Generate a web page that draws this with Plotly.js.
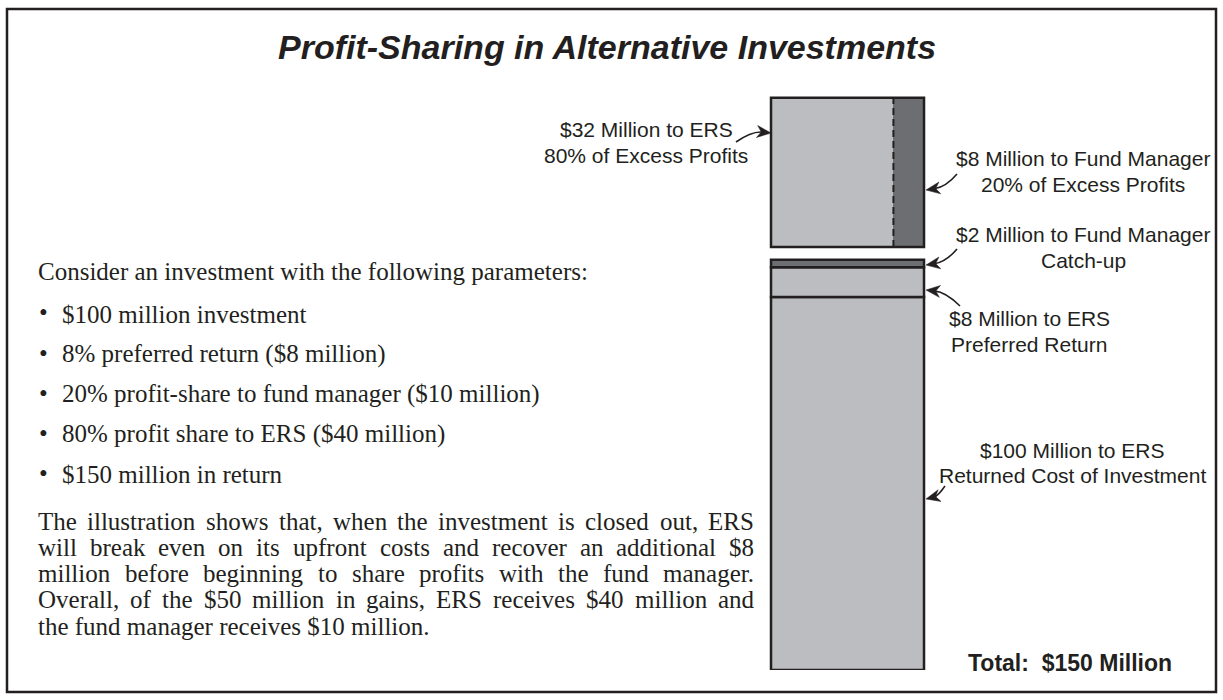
<!DOCTYPE html>
<html>
<head>
<meta charset="utf-8">
<script src="https://cdn.plot.ly/plotly-3.0.1.min.js"></script>
<style>html,body{margin:0;padding:0;background:#fff;}#chart{width:1223px;height:700px;}</style>
</head>
<body>
<div id="chart"></div>
<script>
// ---------- data ----------
const lowerSegments = ["Returned Cost of Investment", "Preferred Return", "Catch-up"];
const lowerRecipients = ["ERS", "ERS", "Fund Manager"];
const lowerValues = [100, 8, 2];
const excessRecipients = ["ERS", "Fund Manager"];
const excessValues = [32, 8];
const excessShares = [80, 20];
const totalReturn = 150;
const titleText = "Profit-Sharing in Alternative Investments";
const introText = "Consider an investment with the following parameters:";
const bulletItems = [
  "$100 million investment",
  "8% preferred return ($8 million)",
  "20% profit-share to fund manager ($10 million)",
  "80% profit share to ERS ($40 million)",
  "$150 million in return"
];
const paragraphLines = [
  "The illustration shows that, when the investment is closed out, ERS",
  "will break even on its upfront costs and recover an additional $8",
  "million before beginning to share profits with the fund manager.",
  "Overall, of the $50 million in gains, ERS receives $40 million and",
  "the fund manager receives $10 million."
];

// ---------- style ----------
const W = 1223, H = 700;
const INK = "#231f20", LIGHT = "#bcbdc1", DARK = "#6d6e71";
const SANS = "Arial, 'Liberation Sans', sans-serif";
const SERIF_NAME = "Liberation Serif";
const SERIF = "'Liberation Serif', 'DejaVu Serif', serif";
const SERIF_SIZE = 25;
const LABEL_SIZE = 21;
const LW = 2.5;
const GAP = 3.4;           // visual gap between stacked block and excess-profit block
const px = X => X / W, py = Y => 1 - Y / H;

// ---------- traces ----------
const traces = [];
let base = 0;
const lowerColors = [LIGHT, LIGHT, DARK];
lowerValues.forEach((v, i) => {
  traces.push({type: "bar", x: [0], y: [v], base: [base], width: [1],
    marker: {color: lowerColors[i], line: {color: INK, width: LW}},
    hoverinfo: "skip", showlegend: false});
  base += v;
});
const excessBase = base + GAP;
const excessTotal = excessValues.reduce((a, b) => a + b, 0);
let left = -0.5;
const excessColors = [LIGHT, DARK];
excessValues.forEach((v, i) => {
  const w = v / excessTotal;
  traces.push({type: "bar", x: [left + w / 2], y: [excessTotal], base: [excessBase], width: [w],
    marker: {color: excessColors[i], line: {width: 0}}, hoverinfo: "skip", showlegend: false});
  left += w;
});
const splitX = -0.5 + excessValues[0] / excessTotal;

// ---------- shapes ----------
const shapes = [
  {type: "rect", xref: "paper", yref: "paper", x0: px(7), x1: px(1216), y0: py(9), y1: py(692),
   line: {color: INK, width: LW}, layer: "below"},
  {type: "rect", xref: "x", yref: "y", x0: -0.5, x1: 0.5, y0: excessBase, y1: excessBase + excessTotal,
   line: {color: INK, width: LW}},
  {type: "line", xref: "x", yref: "y", x0: splitX, x1: splitX, y0: excessBase, y1: excessBase + excessTotal,
   line: {color: INK, width: 2, dash: "7px,4px"}}
];
function arrow(S, C, T) {
  const L = 14, hw = 6;
  let dx = T[0] - C[0], dy = T[1] - C[1];
  const n = Math.hypot(dx, dy); dx /= n; dy /= n;
  const nx = -dy, ny = dx;
  const E = [T[0] - 0.6 * L * dx, T[1] - 0.6 * L * dy];
  shapes.push({type: "path", xref: "paper", yref: "paper",
    path: `M ${px(S[0])} ${py(S[1])} Q ${px(C[0])} ${py(C[1])} ${px(E[0])} ${py(E[1])}`,
    line: {color: INK, width: 1.6}});
  const b1 = [T[0] - L * dx + hw * nx, T[1] - L * dy + hw * ny];
  const b2 = [T[0] - L * dx - hw * nx, T[1] - L * dy - hw * ny];
  const m = [T[0] - 0.7 * L * dx, T[1] - 0.7 * L * dy];
  shapes.push({type: "path", xref: "paper", yref: "paper",
    path: `M ${px(T[0])} ${py(T[1])} L ${px(b1[0])} ${py(b1[1])} L ${px(m[0])} ${py(m[1])} L ${px(b2[0])} ${py(b2[1])} Z`,
    fillcolor: INK, line: {color: INK, width: 0.5}});
}
arrow([736, 142], [752, 131], [771, 133]);
arrow([957, 174], [946, 187], [926, 190]);
arrow([957, 249], [946, 262], [926, 265]);
arrow([960, 306], [946, 292], [926, 290]);
arrow([945, 486], [938, 496], [926, 499]);

// ---------- annotations ----------
const ann = [];
function txt(text, X, Y, opts) {
  ann.push(Object.assign({text: text, xref: "paper", yref: "paper", x: px(X), y: py(Y),
    showarrow: false, xanchor: "center", yanchor: "middle",
    font: {family: SANS, size: LABEL_SIZE, color: INK}}, opts || {}));
}
txt("<b><i>" + titleText + "</i></b>", 607, 47, {font: {family: SANS, size: 34, color: INK}});
txt(`$${excessValues[0]} Million to ${excessRecipients[0]}`, 646, 129);
txt(`${excessShares[0]}% of Excess Profits`, 646, 155);
txt(`$${excessValues[1]} Million to ${excessRecipients[1]}`, 1083, 159);
txt(`${excessShares[1]}% of Excess Profits`, 1083, 184);
txt(`$${lowerValues[2]} Million to ${lowerRecipients[2]}`, 1083, 234);
txt(lowerSegments[2], 1083, 260);
txt(`$${lowerValues[1]} Million to ${lowerRecipients[1]}`, 1029, 318);
txt(lowerSegments[1], 1029, 344);
txt(`$${lowerValues[0]} Million to ${lowerRecipients[0]}`, 1072, 451);
txt(lowerSegments[0], 1072, 475);
txt(`<b>Total:  $${totalReturn} Million</b>`, 1070, 663, {font: {family: SANS, size: 23, color: INK}});

const serif = {family: SERIF, size: SERIF_SIZE, color: INK};
txt(introText, 36, 271, {xanchor: "left", font: serif});
bulletItems.forEach((b, i) => {
  txt("•", 43, 313 + i * 40, {font: serif});
  txt(b, 60, 314 + i * 40, {xanchor: "left", font: serif});
});

// justified paragraph: word positions measured at run time
const ctx = document.createElement("canvas").getContext("2d");
ctx.font = `${SERIF_SIZE}px '${SERIF_NAME}'`;
const PARA_LEFT = 36, PARA_RIGHT = 752;
paragraphLines.forEach((line, i) => {
  const Y = 521 + i * 26.3;
  if (i === paragraphLines.length - 1) {
    txt(line, PARA_LEFT, Y, {xanchor: "left", font: serif});
    return;
  }
  const words = line.split(" ");
  const widths = words.map(w => ctx.measureText(w).width);
  const sum = widths.reduce((a, b) => a + b, 0);
  const space = (PARA_RIGHT - PARA_LEFT - sum) / (words.length - 1);
  let x = PARA_LEFT;
  words.forEach((w, k) => {
    txt(w, x, Y, {xanchor: "left", font: serif});
    x += widths[k] + space;
  });
});

const layout = {
  width: W, height: H,
  margin: {l: 0, r: 0, t: 0, b: 0},
  paper_bgcolor: "#ffffff", plot_bgcolor: "rgba(0,0,0,0)",
  barmode: "overlay", bargap: 0,
  xaxis: {range: [-5.539, 2.454], domain: [0, 1], visible: false, fixedrange: true},
  yaxis: {range: [0, 160.86], domain: [30 / H, 630 / H], visible: false, fixedrange: true},
  shapes: shapes, annotations: ann, showlegend: false
};
Plotly.newPlot("chart", traces, layout, {displayModeBar: false, staticPlot: true});
</script>
</body>
</html>
